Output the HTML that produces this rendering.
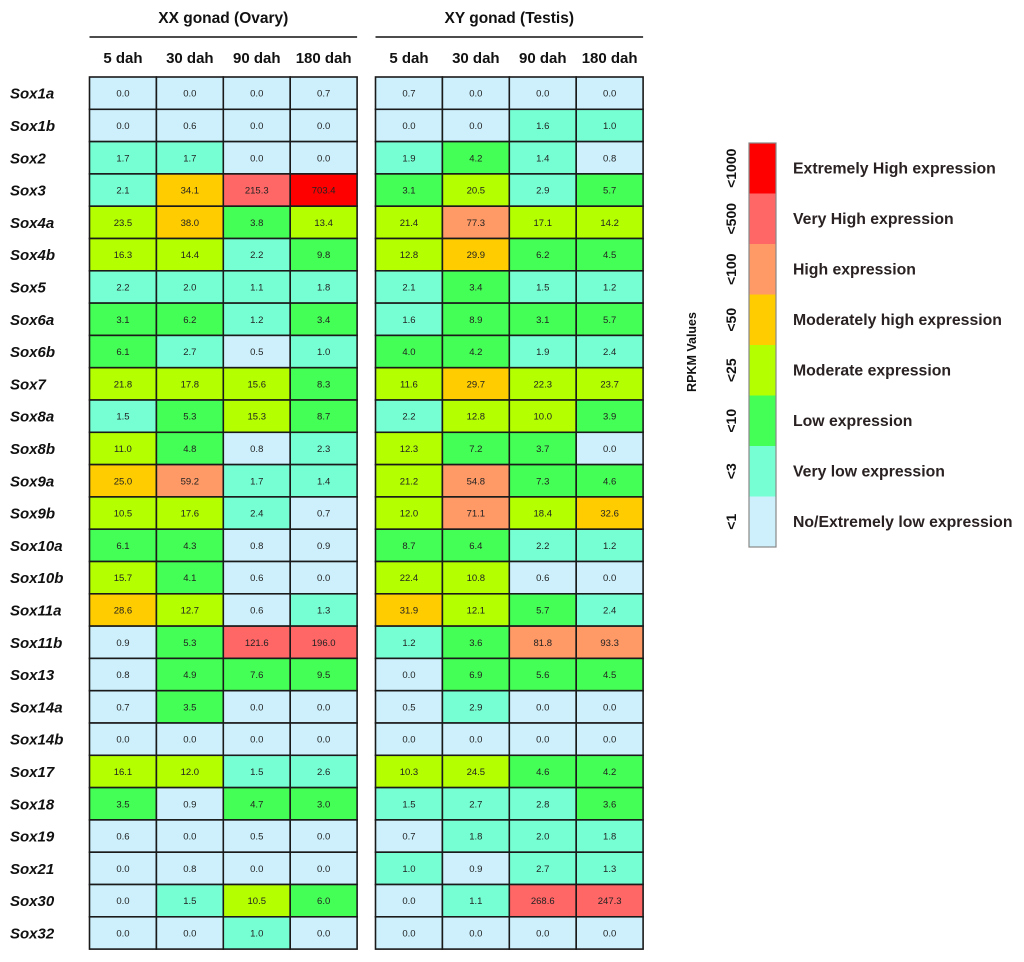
<!DOCTYPE html>
<html><head><meta charset="utf-8"><style>
body{margin:0;background:#fff;width:1024px;height:962px;overflow:hidden}
svg{display:block;font-family:"Liberation Sans",Arial,sans-serif}
</style></head><body>
<svg id="chart" width="1024" height="962" viewBox="0 0 1024 962"></svg>
<script>
const genes=["Sox1a","Sox1b","Sox2","Sox3","Sox4a","Sox4b","Sox5","Sox6a","Sox6b","Sox7","Sox8a","Sox8b","Sox9a","Sox9b","Sox10a","Sox10b","Sox11a","Sox11b","Sox13","Sox14a","Sox14b","Sox17","Sox18","Sox19","Sox21","Sox30","Sox32"];
const stages=["5 dah","30 dah","90 dah","180 dah"];
const xxValues=[[0.0,0.0,0.0,0.7],[0.0,0.6,0.0,0.0],[1.7,1.7,0.0,0.0],[2.1,34.1,215.3,703.4],[23.5,38.0,3.8,13.4],[16.3,14.4,2.2,9.8],[2.2,2.0,1.1,1.8],[3.1,6.2,1.2,3.4],[6.1,2.7,0.5,1.0],[21.8,17.8,15.6,8.3],[1.5,5.3,15.3,8.7],[11.0,4.8,0.8,2.3],[25.0,59.2,1.7,1.4],[10.5,17.6,2.4,0.7],[6.1,4.3,0.8,0.9],[15.7,4.1,0.6,0.0],[28.6,12.7,0.6,1.3],[0.9,5.3,121.6,196.0],[0.8,4.9,7.6,9.5],[0.7,3.5,0.0,0.0],[0.0,0.0,0.0,0.0],[16.1,12.0,1.5,2.6],[3.5,0.9,4.7,3.0],[0.6,0.0,0.5,0.0],[0.0,0.8,0.0,0.0],[0.0,1.5,10.5,6.0],[0.0,0.0,1.0,0.0]];
const xyValues=[[0.7,0.0,0.0,0.0],[0.0,0.0,1.6,1.0],[1.9,4.2,1.4,0.8],[3.1,20.5,2.9,5.7],[21.4,77.3,17.1,14.2],[12.8,29.9,6.2,4.5],[2.1,3.4,1.5,1.2],[1.6,8.9,3.1,5.7],[4.0,4.2,1.9,2.4],[11.6,29.7,22.3,23.7],[2.2,12.8,10.0,3.9],[12.3,7.2,3.7,0.0],[21.2,54.8,7.3,4.6],[12.0,71.1,18.4,32.6],[8.7,6.4,2.2,1.2],[22.4,10.8,0.6,0.0],[31.9,12.1,5.7,2.4],[1.2,3.6,81.8,93.3],[0.0,6.9,5.6,4.5],[0.5,2.9,0.0,0.0],[0.0,0.0,0.0,0.0],[10.3,24.5,4.6,4.2],[1.5,2.7,2.8,3.6],[0.7,1.8,2.0,1.8],[1.0,0.9,2.7,1.3],[0.0,1.1,268.6,247.3],[0.0,0.0,0.0,0.0]];
const thresholds=[1,3,10,25,50,100,500,1000];
const tickLabels=["<1","<3","<10","<25","<50","<100","<500","<1000"];
const legendLabels=["No/Extremely low expression","Very low expression","Low expression","Moderate expression","Moderately high expression","High expression","Very High expression","Extremely High expression"];
const colors=["#cdf0fc","#77ffd4","#44ff55","#b4ff00","#ffcc00","#ff9966","#ff6666","#ff0000"];

const NS="http://www.w3.org/2000/svg";
const svg=document.getElementById('chart');
function mk(t,a,txt){const e=document.createElementNS(NS,t);for(const k in a)e.setAttribute(k,a[k]);if(txt!==undefined)e.textContent=txt;svg.appendChild(e);return e;}
function colorFor(v){for(let i=0;i<thresholds.length;i++)if(v<thresholds[i])return colors[i];return colors[colors.length-1];}
const rowTop=77,rowH=32.3,colW=66.9;
const yRow=i=>rowTop+i*rowH;
const blocks=[{x0:89.5,title:"XX gonad (Ovary)",vals:xxValues,name:"xx"},{x0:375.5,title:"XY gonad (Testis)",vals:xyValues,name:"xy"}];
const xCol=(b,j)=>b.x0+j*colW;

blocks.forEach(b=>{
  let t=mk('text',{x:b.x0+2*colW,y:23,'text-anchor':'middle','font-size':15.5,'font-weight':'bold',fill:'#111'},b.title);
  
  
  let l=mk('line',{x1:b.x0,x2:b.x0+4*colW,y1:37,y2:37,stroke:'#111','stroke-width':1.5});
  
  
  stages.forEach((s,j)=>{
    let h=mk('text',{x:xCol(b,j)+colW/2,y:63,'text-anchor':'middle','font-size':15,'font-weight':'bold',fill:'#111'},s);
    
    
  });
  b.vals.forEach((row,i)=>{
    row.forEach((v,j)=>{
      let r=mk('rect',{x:xCol(b,j),y:yRow(i),width:colW,height:rowH,fill:colorFor(v),stroke:'#1a1a1a','stroke-width':1.6});
      
      
      let tx=mk('text',{x:xCol(b,j)+colW/2,y:yRow(i)+rowH/2+3.5,'text-anchor':'middle','font-size':9.5,fill:'#222'},v.toFixed(1));
      
      
    });
  });
});
genes.forEach((g,i)=>{
  let t=mk('text',{x:10,y:yRow(i)+rowH/2+5.5,'font-size':15,'font-weight':'bold','font-style':'italic',fill:'#111'},g);
  
  
});
const lx=749,lw=27,lTop=143,segH=50.5;
const segY=k=>lTop+(colors.length-1-k)*segH;
colors.forEach((c,k)=>{
  let r=mk('rect',{x:lx,y:segY(k),width:lw,height:segH,fill:c});
  
  
  let tk=mk('text',{x:0,y:0,'text-anchor':'middle','font-size':14,'font-weight':'bold',fill:'#111',transform:`translate(736,${segY(k)+segH/2}) rotate(-90)`},tickLabels[k]);
  
  
  let lb=mk('text',{x:793,y:segY(k)+segH/2+5,'font-size':15.8,'font-weight':'bold',fill:'#2a2222'},legendLabels[k]);
  
  
});
let bo=mk('rect',{x:lx,y:lTop,width:lw,height:segH*8,fill:'none',stroke:'#888','stroke-width':1.2});


let at=mk('text',{x:0,y:0,'text-anchor':'middle','font-size':12.5,'font-weight':'bold',fill:'#111',transform:'translate(696,352) rotate(-90)'},"RPKM Values");


</script>
</body></html>
